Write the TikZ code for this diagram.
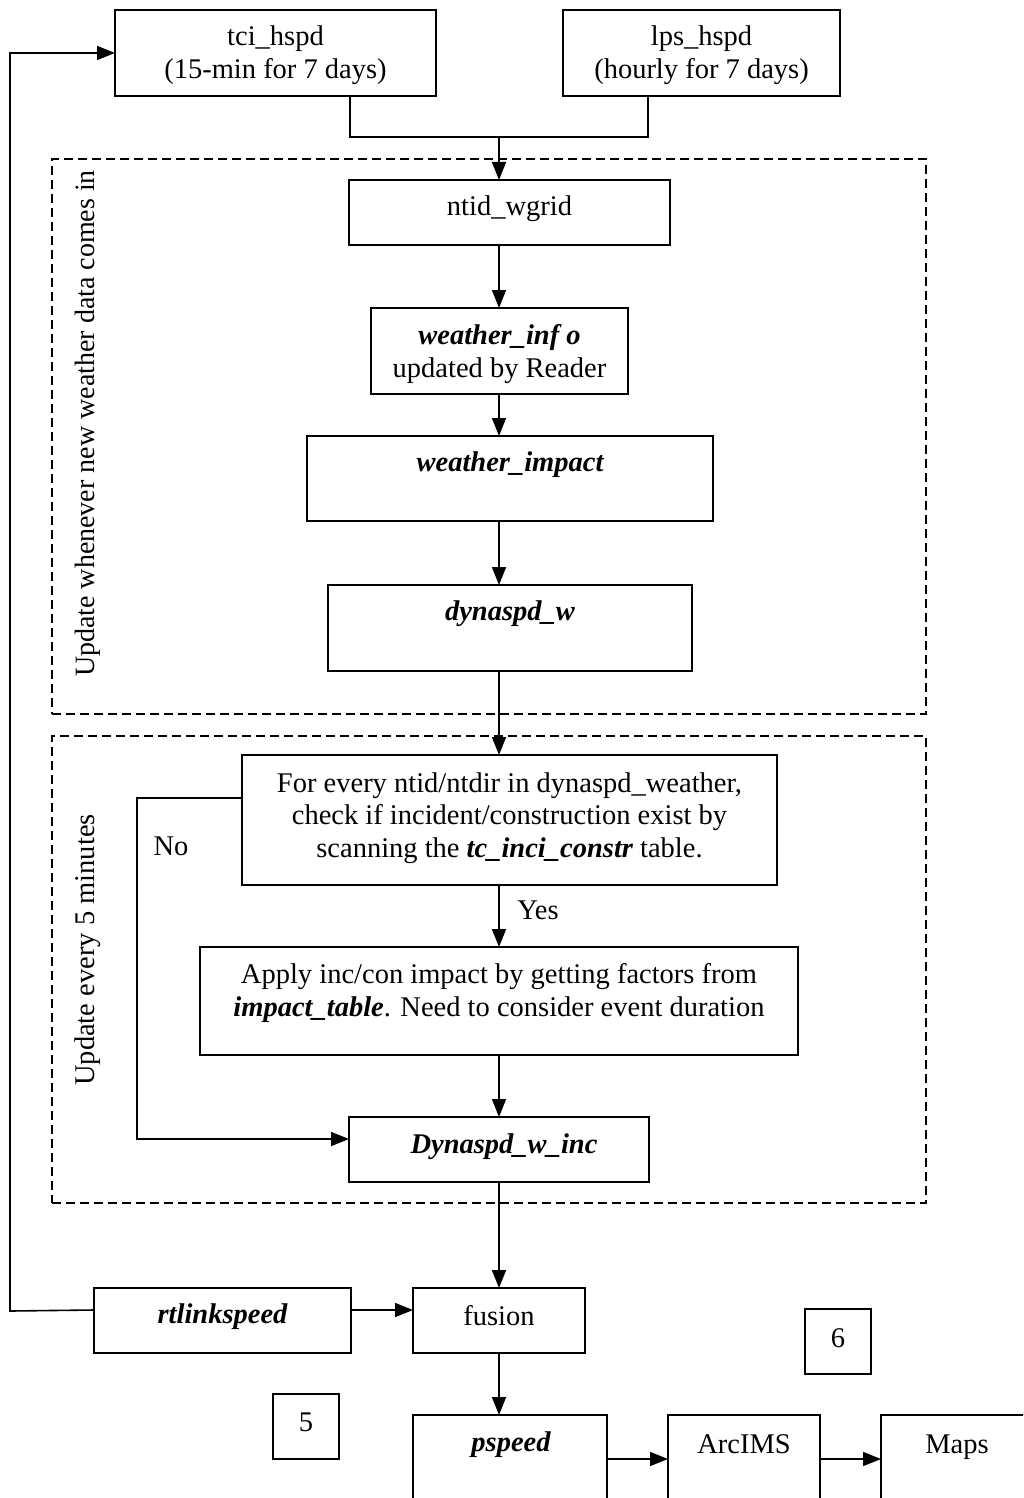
\documentclass[tikz,border=0pt]{standalone}
\usepackage{fontspec}
\setmainfont{Liberation Serif}
\usetikzlibrary{arrows.meta}
\newcommand\bigtxt{\fontsize{28.5}{32.5}\selectfont}
\newcommand\bi[1]{{\bfseries\itshape #1}}
\tikzset{
  box/.style={draw, line width=1.6pt, rectangle, inner sep=0pt, outer sep=0pt},
  txt/.style={align=center, inner sep=0pt, font=\bigtxt},
  ln/.style={line width=1.6pt},
  arr/.style={line width=1.6pt, -{Triangle[width=14pt,length=18pt]}},
  dbox/.style={draw, line width=2.8pt, dash pattern=on 9pt off 5pt},
}
\begin{document}
\begin{tikzpicture}[x=1pt,y=-1pt]
\useasboundingbox (0,0) rectangle (1023,1498);
\clip (0,0) rectangle (1023,1498);
% dashed groups
\node[dbox, minimum width=874pt, minimum height=555pt, inner sep=0pt] (g1) at (489,436.5) {};
\node[dbox, minimum width=874pt, minimum height=467pt, inner sep=0pt] (g2) at (489,969.5) {};
\node[txt, rotate=90, font=\fontsize{28}{32}\selectfont] (g1l) at (88,423.5) {Update whenever new weather data comes in};
\node[txt, rotate=90] (g2l) at (88,950) {Update every 5 minutes};
% boxes
\node[box, minimum width=321pt, minimum height=86pt] (tci) at (275.5,53) {};
\node[txt] (tcit) at (275.5,55) {tci\_hspd\\(15-min for 7 days)};
\node[box, minimum width=277pt, minimum height=86pt] (lps) at (701.5,53) {};
\node[txt] (lpst) at (701.5,55) {lps\_hspd\\(hourly for 7 days)};
\node[box, minimum width=321pt, minimum height=65pt] (ntid) at (509.5,212.5) {};
\node[txt] (ntidt) at (509.5,209) {ntid\_wgrid};
\node[box, minimum width=257pt, minimum height=86pt] (winfo) at (499.5,351) {};
\node[txt] (winfot) at (499.5,354) {\bi{weather\_inf o}\\updated by Reader};
\node[box, minimum width=406pt, minimum height=85pt] (wimp) at (510,478.5) {};
\node[txt] (wimpt) at (510,465) {\bi{weather\_impact}};
\node[box, minimum width=364pt, minimum height=86pt] (dyn) at (510,628) {};
\node[txt] (dynt) at (510,614) {\bi{dynaspd\_w}};
\node[box, minimum width=535pt, minimum height=130pt] (chk) at (509.5,820) {};
\node[txt] (chkt) at (509.5,818) {For every ntid/ntdir in dynaspd\_weather,\\check if incident/construction exist by\\scanning the \bi{tc\_inci\_constr} table.};
\node[box, minimum width=598pt, minimum height=108pt] (app) at (499,1001) {};
\node[txt] (appt) at (499,993) {Apply inc/con impact by getting factors from\\\bi{impact\_table}. Need to consider event duration};
\node[box, minimum width=300pt, minimum height=65pt] (dwi) at (499,1149.5) {};
\node[txt] (dwit) at (504,1147) {\bi{Dynaspd\_w\_inc}};
\node[box, minimum width=172pt, minimum height=65pt] (fus) at (499,1320.5) {};
\node[txt] (fust) at (499,1316) {fusion};
\node[box, minimum width=257pt, minimum height=65pt] (rtl) at (222.5,1320.5) {};
\node[txt] (rtlt) at (222.5,1317) {\bi{rtlinkspeed}};
\node[box, minimum width=66pt, minimum height=65pt] (six) at (838,1341.5) {};
\node[txt] (sixt) at (838,1338) {6};
\node[box, minimum width=66pt, minimum height=65pt] (five) at (306,1426.5) {};
\node[txt] (fivet) at (306,1422) {5};
\node[box, minimum width=194pt, minimum height=120pt] (psp) at (510,1475) {};
\node[txt] (pspt) at (511,1445) {\bi{pspeed}};
\node[box, minimum width=152pt, minimum height=120pt] (arc) at (744,1475) {};
\node[txt] (arct) at (744,1444) {ArcIMS};
\node[box, minimum width=160pt, minimum height=120pt] (maps) at (961,1475) {};
\node[txt] (mapst) at (957,1447) {Maps};
% labels
\node[txt] (yes) at (538,910) {Yes};
\node[txt] (no) at (171,846) {No};
% helper coordinates
\coordinate (sp) at (499,0);
\coordinate (jl) at (350,137);
\coordinate (jr) at (648,137);
\coordinate (lv) at (0,1310);
\coordinate (lb) at (10,1311);
\coordinate (lt) at (10,53);
\coordinate (nv) at (0,798);
\coordinate (nl) at (137,798);
\coordinate (nb) at (137,1139);
\coordinate (bv) at (0,1459);
% connectors
\draw[ln] (tci.south -| jl) -- (jl) -- (jr) -- (lps.south -| jr);
\draw[arr] (jl -| sp) -- (ntid.north -| sp);
\draw[arr] (ntid.south -| sp) -- (winfo.north -| sp);
\draw[arr] (winfo.south -| sp) -- (wimp.north -| sp);
\draw[arr] (wimp.south -| sp) -- (dyn.north -| sp);
\draw[arr] (dyn.south -| sp) -- (chk.north -| sp);
\draw[arr] (chk.south -| sp) -- (app.north -| sp);
\draw[arr] (app.south -| sp) -- (dwi.north -| sp);
\draw[arr] (chk.west |- nv) -- (nl) -- (nb) -- (dwi.west |- nb);
\draw[arr] (dwi.south -| sp) -- (fus.north -| sp);
\draw[arr] (rtl.east |- lv) -- (fus.west |- lv);
\draw[arr] (rtl.west |- lv) -- (lb) -- (lt) -- (tci.west);
\draw[arr] (fus.south -| sp) -- (psp.north -| sp);
\draw[arr] (psp.east |- bv) -- (arc.west |- bv);
\draw[arr] (arc.east |- bv) -- (maps.west |- bv);
\end{tikzpicture}
\end{document}
